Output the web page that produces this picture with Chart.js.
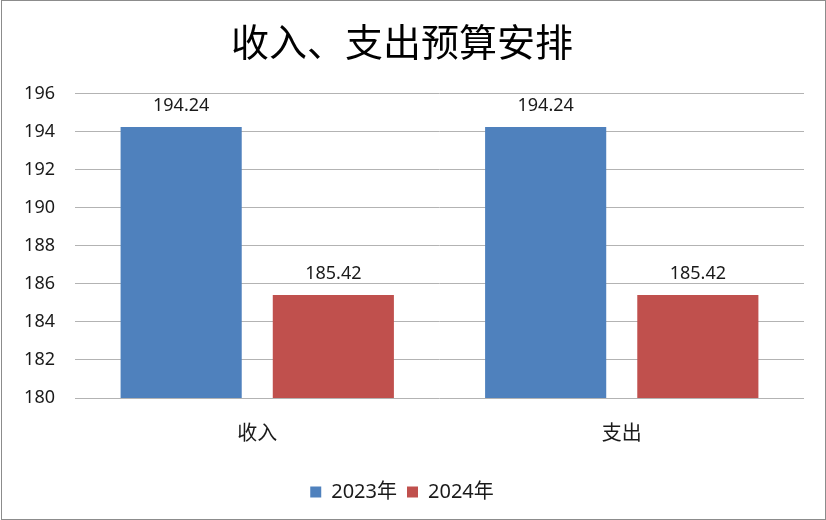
<!DOCTYPE html>
<html>
<head>
<meta charset="utf-8">
<script src="https://cdn.jsdelivr.net/npm/chart.js@4"></script>
<style>
  html, body { margin: 0; padding: 0; background: #fff; }
  #wrap { width: 826px; height: 520px; }
</style>
</head>
<body>
<div id="wrap"><canvas id="chart" width="826" height="520"></canvas></div>
<script>
const categories = ['收入', '支出'];
const seriesNames = ['2023年', '2024年'];
const values2023 = [194.24, 194.24];
const values2024 = [185.42, 185.42];
const yTicks = [180, 182, 184, 186, 188, 190, 192, 194, 196];

const FONT = "'Noto Sans', 'Noto Sans CJK SC', sans-serif";

// white page + thin grey frame
const frame = {
    id: 'frame',
    beforeDraw(chart) {
        const c = chart.ctx;
        c.save();
        c.fillStyle = '#fff';
        c.fillRect(0, 0, chart.width, chart.height);
        c.strokeStyle = '#8c8c8c';
        c.lineWidth = 1;
        c.strokeRect(1.5, 0.5, chart.width - 2, chart.height - 1);
        c.restore();
    }
};

// value labels above each bar
const valueLabels = {
    id: 'valueLabels',
    afterDatasetsDraw(chart) {
        const c = chart.ctx;
        c.save();
        c.font = '18px ' + FONT;
        c.fillStyle = '#1a1a1a';
        c.textAlign = 'center';
        c.textBaseline = 'bottom';
        chart.data.datasets.forEach((ds, i) => {
            chart.getDatasetMeta(i).data.forEach((bar, j) => {
                c.fillText(ds.data[j].toFixed(2), bar.x, bar.y - 12);
            });
        });
        c.restore();
    }
};

new Chart(document.getElementById('chart'), {
    type: 'bar',
    data: {
        labels: categories,
        datasets: [
            { label: seriesNames[0], data: values2023, backgroundColor: '#4F81BD' },
            { label: seriesNames[1], data: values2024, backgroundColor: '#C0504D' }
        ]
    },
    options: {
        responsive: false,
        animation: false,
        layout: { padding: { left: 0, right: 22, top: 0, bottom: 8 } },
        datasets: {
            bar: { categoryPercentage: 0.835, barPercentage: 0.796 }
        },
        scales: {
            x: {
                grid: { display: false, drawTicks: false },
                border: { display: false },
                ticks: { color: '#1a1a1a', font: { size: 20, family: FONT }, padding: 24 },
                afterFit(scale) { scale.height = 74; }
            },
            y: {
                min: 180,
                max: 196,
                afterBuildTicks(scale) { scale.ticks = yTicks.map(v => ({ value: v })); },
                grid: { color: '#b3b3b3', lineWidth: 1, drawTicks: false },
                border: { display: false },
                ticks: { color: '#1a1a1a', font: { size: 18, family: FONT }, padding: 20 },
                afterFit(scale) { scale.width = 75; }
            }
        },
        plugins: {
            title: {
                display: true,
                text: '收入、支出预算安排',
                color: '#000',
                font: { size: 38, family: "'Noto Sans CJK SC', sans-serif", weight: 'normal' },
                padding: { top: 19, bottom: 29 }
            },
            legend: {
                position: 'bottom',
                labels: {
                    color: '#1a1a1a',
                    font: { size: 20, family: FONT },
                    boxWidth: 11,
                    boxHeight: 11,
                    padding: 10
                }
            },
            tooltip: { enabled: false }
        }
    },
    plugins: [frame, valueLabels]
});
</script>
</body>
</html>
